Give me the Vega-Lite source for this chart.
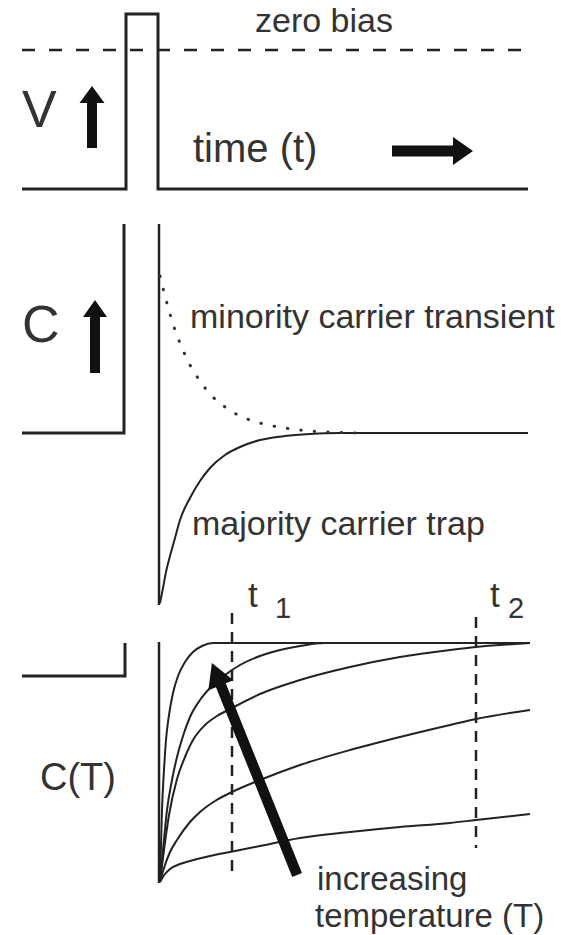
{
  "$schema": "https://vega.github.io/schema/vega-lite/v6.json",
  "width": 566,
  "height": 935,
  "autosize": {"type": "fit", "contains": "padding"},
  "padding": 0,
  "background": "white",
  "config": {"view": {"stroke": null}},
  "datasets": {
    "lines": [
      {"id": "pulse", "x": 22, "y": 189}, {"id": "pulse", "x": 126, "y": 189}, {"id": "pulse", "x": 126, "y": 14},
      {"id": "pulse", "x": 158, "y": 14}, {"id": "pulse", "x": 158, "y": 189}, {"id": "pulse", "x": 528, "y": 189},
      {"id": "C bracket", "x": 124, "y": 224}, {"id": "C bracket", "x": 124, "y": 433}, {"id": "C bracket", "x": 22, "y": 433},
      {"id": "CT bracket", "x": 125, "y": 643}, {"id": "CT bracket", "x": 125, "y": 676}, {"id": "CT bracket", "x": 22, "y": 676}
    ],
    "axes": [
      {"id": "C axis", "x": 159, "y": 224}, {"id": "C axis", "x": 159, "y": 605},
      {"id": "CT axis", "x": 159, "y": 642}, {"id": "CT axis", "x": 159, "y": 883}
    ],
    "curves": [
      {"id": "majority trap", "x": 160, "y": 603}, {"id": "majority trap", "x": 163, "y": 588}, {"id": "majority trap", "x": 166, "y": 572},
      {"id": "majority trap", "x": 170, "y": 556}, {"id": "majority trap", "x": 175, "y": 538}, {"id": "majority trap", "x": 180, "y": 520},
      {"id": "majority trap", "x": 190, "y": 498}, {"id": "majority trap", "x": 200, "y": 481}, {"id": "majority trap", "x": 210, "y": 468},
      {"id": "majority trap", "x": 225, "y": 455}, {"id": "majority trap", "x": 240, "y": 447}, {"id": "majority trap", "x": 260, "y": 440},
      {"id": "majority trap", "x": 285, "y": 436}, {"id": "majority trap", "x": 310, "y": 434}, {"id": "majority trap", "x": 340, "y": 433},
      {"id": "majority trap", "x": 528, "y": 433},

      {"id": "T5", "x": 160, "y": 882}, {"id": "T5", "x": 161, "y": 845}, {"id": "T5", "x": 162, "y": 810}, {"id": "T5", "x": 164, "y": 770},
      {"id": "T5", "x": 166, "y": 740}, {"id": "T5", "x": 169, "y": 715}, {"id": "T5", "x": 173, "y": 693}, {"id": "T5", "x": 178, "y": 676},
      {"id": "T5", "x": 185, "y": 662}, {"id": "T5", "x": 193, "y": 652}, {"id": "T5", "x": 202, "y": 646}, {"id": "T5", "x": 213, "y": 643},
      {"id": "T5", "x": 530, "y": 643},

      {"id": "T4", "x": 160, "y": 882}, {"id": "T4", "x": 163, "y": 850}, {"id": "T4", "x": 167, "y": 810}, {"id": "T4", "x": 172, "y": 780},
      {"id": "T4", "x": 177, "y": 757}, {"id": "T4", "x": 183, "y": 736}, {"id": "T4", "x": 190, "y": 717}, {"id": "T4", "x": 200, "y": 700},
      {"id": "T4", "x": 213, "y": 685}, {"id": "T4", "x": 225, "y": 675}, {"id": "T4", "x": 240, "y": 665}, {"id": "T4", "x": 260, "y": 656},
      {"id": "T4", "x": 280, "y": 650}, {"id": "T4", "x": 300, "y": 646}, {"id": "T4", "x": 325, "y": 643}, {"id": "T4", "x": 530, "y": 643},

      {"id": "T3", "x": 160, "y": 882}, {"id": "T3", "x": 164, "y": 850}, {"id": "T3", "x": 169, "y": 815}, {"id": "T3", "x": 177, "y": 779},
      {"id": "T3", "x": 185, "y": 757}, {"id": "T3", "x": 193, "y": 740}, {"id": "T3", "x": 205, "y": 725}, {"id": "T3", "x": 217, "y": 716},
      {"id": "T3", "x": 232, "y": 708}, {"id": "T3", "x": 260, "y": 694}, {"id": "T3", "x": 300, "y": 680}, {"id": "T3", "x": 350, "y": 667},
      {"id": "T3", "x": 400, "y": 657}, {"id": "T3", "x": 450, "y": 650}, {"id": "T3", "x": 476, "y": 647}, {"id": "T3", "x": 500, "y": 645},
      {"id": "T3", "x": 530, "y": 643},

      {"id": "T2", "x": 160, "y": 882}, {"id": "T2", "x": 165, "y": 865}, {"id": "T2", "x": 170, "y": 852}, {"id": "T2", "x": 177, "y": 840},
      {"id": "T2", "x": 190, "y": 822}, {"id": "T2", "x": 200, "y": 812}, {"id": "T2", "x": 215, "y": 801}, {"id": "T2", "x": 232, "y": 792},
      {"id": "T2", "x": 260, "y": 780}, {"id": "T2", "x": 300, "y": 765}, {"id": "T2", "x": 350, "y": 750}, {"id": "T2", "x": 400, "y": 737},
      {"id": "T2", "x": 450, "y": 725}, {"id": "T2", "x": 476, "y": 719}, {"id": "T2", "x": 530, "y": 710},

      {"id": "T1", "x": 160, "y": 882}, {"id": "T1", "x": 165, "y": 874}, {"id": "T1", "x": 170, "y": 869}, {"id": "T1", "x": 180, "y": 864},
      {"id": "T1", "x": 190, "y": 861}, {"id": "T1", "x": 210, "y": 856}, {"id": "T1", "x": 230, "y": 852}, {"id": "T1", "x": 260, "y": 846},
      {"id": "T1", "x": 300, "y": 838}, {"id": "T1", "x": 350, "y": 832}, {"id": "T1", "x": 400, "y": 827}, {"id": "T1", "x": 450, "y": 823},
      {"id": "T1", "x": 476, "y": 820}, {"id": "T1", "x": 530, "y": 814}
    ],
    "transient": [
      {"x": 160, "y": 276}, {"x": 165, "y": 296}, {"x": 170, "y": 314}, {"x": 175, "y": 330}, {"x": 180, "y": 343},
      {"x": 190, "y": 365}, {"x": 200, "y": 381}, {"x": 210, "y": 394}, {"x": 225, "y": 407}, {"x": 240, "y": 416},
      {"x": 260, "y": 423}, {"x": 285, "y": 428}, {"x": 310, "y": 431}, {"x": 340, "y": 432.5}, {"x": 360, "y": 433}
    ],
    "guides": [
      {"id": "zero bias", "x": 22, "y": 50}, {"id": "zero bias", "x": 528, "y": 50},
      {"id": "t1", "x": 232, "y": 613}, {"id": "t1", "x": 232, "y": 875},
      {"id": "t2", "x": 476, "y": 617}, {"id": "t2", "x": 476, "y": 848}
    ],
    "symbols": [
      {"label": "V", "x": 22, "y": 127},
      {"label": "C", "x": 22, "y": 342}
    ],
    "labels": [
      {"label": "zero bias", "role": "note", "x": 255, "y": 32},
      {"label": "time (t)", "role": "time", "x": 193, "y": 162},
      {"label": "minority carrier transient", "role": "note", "x": 190, "y": 328},
      {"label": "majority carrier trap", "role": "note", "x": 192, "y": 535},
      {"label": "t", "role": "mark", "x": 248, "y": 607},
      {"label": "1", "role": "index", "x": 275, "y": 618},
      {"label": "t", "role": "mark", "x": 490, "y": 607},
      {"label": "2", "role": "index", "x": 508, "y": 618},
      {"label": "C(T)", "role": "axis", "x": 40, "y": 790},
      {"label": "increasing", "role": "caption", "x": 317, "y": 890},
      {"label": "temperature (T)", "role": "caption", "x": 315, "y": 927}
    ],
    "arrows": [
      {"name": "V up", "x": 92, "y": 117},
      {"name": "C up", "x": 95, "y": 336.5},
      {"name": "time", "x": 432.5, "y": 151},
      {"name": "temperature", "x": 254.5, "y": 769}
    ]
  },
  "encoding": {
    "x": {"field": "x", "type": "quantitative", "scale": {"domain": [0, 566], "nice": false, "zero": false}, "axis": null},
    "y": {"field": "y", "type": "quantitative", "scale": {"domain": [0, 935], "nice": false, "zero": false, "reverse": true}, "axis": null}
  },
  "layer": [
    {
      "data": {"name": "guides"},
      "transform": [{"filter": "datum.id === 'zero bias'"}],
      "mark": {"type": "line", "color": "#222", "strokeWidth": 2.5, "strokeDash": [13, 14]},
      "encoding": {"detail": {"field": "id"}, "order": {"value": null}}
    },
    {
      "data": {"name": "guides"},
      "transform": [{"filter": "datum.id !== 'zero bias'"}],
      "mark": {"type": "line", "color": "#222", "strokeWidth": 2.5, "strokeDash": [11, 8]},
      "encoding": {"detail": {"field": "id"}, "order": {"value": null}}
    },
    {
      "data": {"name": "lines"},
      "mark": {"type": "line", "color": "#222", "strokeWidth": 3, "strokeJoin": "miter"},
      "encoding": {"detail": {"field": "id"}, "order": {"value": null}}
    },
    {
      "data": {"name": "axes"},
      "mark": {"type": "line", "color": "#222", "strokeWidth": 2.5},
      "encoding": {"detail": {"field": "id"}, "order": {"value": null}}
    },
    {
      "data": {"name": "curves"},
      "mark": {"type": "line", "color": "#222", "strokeWidth": 2, "interpolate": "monotone"},
      "encoding": {"detail": {"field": "id"}, "order": {"value": null}}
    },
    {
      "data": {"name": "transient"},
      "mark": {"type": "line", "color": "#333", "strokeWidth": 3, "strokeCap": "round", "strokeDash": [0.5, 13], "interpolate": "monotone"},
      "encoding": {"order": {"value": null}}
    },
    {
      "data": {"name": "symbols"},
      "mark": {"type": "text", "align": "left", "baseline": "alphabetic", "font": "Liberation Sans Narrow, Liberation Sans", "fontSize": 52, "color": "#333"},
      "encoding": {"text": {"field": "label"}}
    },
    {
      "data": {"name": "labels"},
      "transform": [{"filter": "datum.role === 'note'"}],
      "mark": {"type": "text", "align": "left", "baseline": "alphabetic", "font": "Liberation Sans", "fontSize": 34, "color": "#333"},
      "encoding": {"text": {"field": "label"}}
    },
    {
      "data": {"name": "labels"},
      "transform": [{"filter": "datum.role === 'caption'"}],
      "mark": {"type": "text", "align": "left", "baseline": "alphabetic", "font": "Liberation Sans", "fontSize": 33, "color": "#333"},
      "encoding": {"text": {"field": "label"}}
    },
    {
      "data": {"name": "labels"},
      "transform": [{"filter": "datum.role === 'time'"}],
      "mark": {"type": "text", "align": "left", "baseline": "alphabetic", "font": "Liberation Sans", "fontSize": 40, "color": "#333"},
      "encoding": {"text": {"field": "label"}}
    },
    {
      "data": {"name": "labels"},
      "transform": [{"filter": "datum.role === 'mark'"}],
      "mark": {"type": "text", "align": "left", "baseline": "alphabetic", "font": "Liberation Sans", "fontSize": 35, "color": "#333"},
      "encoding": {"text": {"field": "label"}}
    },
    {
      "data": {"name": "labels"},
      "transform": [{"filter": "datum.role === 'index'"}],
      "mark": {"type": "text", "align": "left", "baseline": "alphabetic", "font": "Liberation Sans", "fontSize": 29, "color": "#333"},
      "encoding": {"text": {"field": "label"}}
    },
    {
      "data": {"name": "labels"},
      "transform": [{"filter": "datum.role === 'axis'"}],
      "mark": {"type": "text", "align": "left", "baseline": "alphabetic", "font": "Liberation Sans", "fontSize": 38, "color": "#333"},
      "encoding": {"text": {"field": "label"}}
    },
    {
      "data": {"name": "arrows"},
      "transform": [{"filter": "datum.name === 'V up'"}],
      "mark": {"type": "point", "filled": true, "opacity": 1, "color": "#111", "strokeWidth": 0, "size": 3844,
               "shape": "M -0.161 1 L 0.161 1 L 0.161 -0.452 L 0.403 -0.452 L 0 -1 L -0.403 -0.452 L -0.161 -0.452 Z"}
    },
    {
      "data": {"name": "arrows"},
      "transform": [{"filter": "datum.name === 'C up'"}],
      "mark": {"type": "point", "filled": true, "opacity": 1, "color": "#111", "strokeWidth": 0, "size": 5329,
               "shape": "M -0.137 1 L 0.137 1 L 0.137 -0.534 L 0.329 -0.534 L 0 -1 L -0.329 -0.534 L -0.137 -0.534 Z"}
    },
    {
      "data": {"name": "arrows"},
      "transform": [{"filter": "datum.name === 'time'"}],
      "mark": {"type": "point", "filled": true, "opacity": 1, "color": "#111", "strokeWidth": 0, "size": 6561, "angle": 90,
               "shape": "M -0.136 1 L 0.136 1 L 0.136 -0.506 L 0.346 -0.506 L 0 -1 L -0.346 -0.506 L -0.136 -0.506 Z"}
    },
    {
      "data": {"name": "arrows"},
      "transform": [{"filter": "datum.name === 'temperature'"}],
      "mark": {"type": "point", "filled": true, "opacity": 1, "color": "#111", "strokeWidth": 0, "size": 52164, "angle": 338.1,
               "shape": "M -0.046 1 L 0.046 1 L 0.046 -0.79 L 0.118 -0.79 L 0 -1 L -0.118 -0.79 L -0.046 -0.79 Z"}
    }
  ]
}
